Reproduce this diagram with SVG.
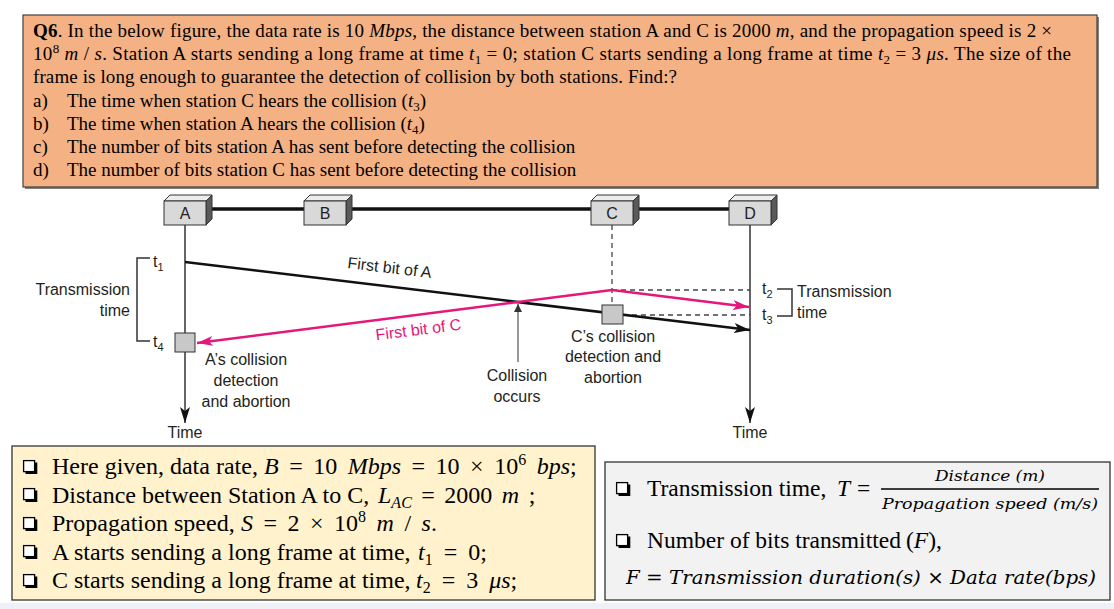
<svg xmlns="http://www.w3.org/2000/svg" width="1114" height="609" viewBox="0 0 1114 609">
<style>
.q{font-family:"Liberation Serif",serif;font-size:19px;fill:#000}
.g{font-family:"Liberation Serif",serif;font-size:24px;fill:#000}
.h{font-family:"Liberation Serif",serif;font-size:23.5px;fill:#000}
.m{font-style:italic}
.lbl{font-family:"Liberation Sans",Arial,sans-serif;font-size:16px;fill:#231F20}
.st{font-family:"Liberation Sans",Arial,sans-serif;font-size:16px;fill:#231F20;text-anchor:middle}
.fr{font-family:"DejaVu Serif",serif;font-style:italic;fill:#000}
.frontf{fill:#D9D9D9;stroke:#333;stroke-width:1}
.topf{fill:#EDEDED;stroke:#333;stroke-width:1}
.sidef{fill:#5A5A5A;stroke:#333;stroke-width:1}
.blk{stroke:#111;stroke-width:2.5;fill:none}
.pnk{stroke:#E5177B;stroke-width:2.5;fill:none}
.tl{stroke:#333;stroke-width:1.5;fill:none}
.dash{stroke:#444;stroke-width:1.3;stroke-dasharray:5,4;fill:none}
.sq{fill:#C8C8C8;stroke:#333;stroke-width:1}
</style>
<defs>
<marker id="ah" markerUnits="userSpaceOnUse" markerWidth="16" markerHeight="10" refX="16" refY="5" orient="auto">
<path d="M0,0 L16,5 L0,10 L4,5 Z" fill="#111"/>
</marker>
<marker id="ahp" markerUnits="userSpaceOnUse" markerWidth="16" markerHeight="10" refX="16" refY="5" orient="auto">
<path d="M0,0 L16,5 L0,10 L4,5 Z" fill="#E5177B"/>
</marker>
<marker id="ahs" markerUnits="userSpaceOnUse" markerWidth="8" markerHeight="8" refX="8" refY="4" orient="auto">
<path d="M0,0 L8,4 L0,8 Z" fill="#333"/>
</marker>
<g id="cb">
<path d="M2.5,12.6 H13 V2.5" stroke="#000" stroke-width="2.6" fill="none"/>
<rect x="0.6" y="0.6" width="11" height="11" fill="#fff" stroke="#000" stroke-width="1.3"/>
</g>
</defs>

<rect x="0" y="0" width="1114" height="609" fill="#fff"/>
<rect x="0" y="603" width="1114" height="6" fill="#EEF1F5"/>

<g id="question">
<rect x="25" y="17" width="1074" height="172" fill="#7F7F7F"/>
<rect x="23" y="15" width="1074" height="172" fill="#F4B183" stroke="#404040" stroke-width="1.2"/>
<text class="q" x="33" y="37" textLength="1019" lengthAdjust="spacing"><tspan font-weight="bold">Q6</tspan>. In the below figure, the data rate is 10 <tspan class="m">Mbps</tspan>, the distance between station A and C is 2000 <tspan class="m">m</tspan>, and the propagation speed is 2 ×</text>
<text class="q" x="33" y="60" textLength="1038" lengthAdjust="spacing">10<tspan dy="-7" font-size="13">8</tspan><tspan dy="7"> </tspan><tspan class="m">m</tspan> / <tspan class="m">s</tspan>. Station A starts sending a long frame at time <tspan class="m">t</tspan><tspan dy="4" font-size="13">1</tspan><tspan dy="-4"> = 0; station C starts sending a long frame at time </tspan><tspan class="m">t</tspan><tspan dy="4" font-size="13">2</tspan><tspan dy="-4"> = 3 </tspan><tspan class="m">μs</tspan>. The size of the</text>
<text class="q" x="33" y="83" textLength="644" lengthAdjust="spacing">frame is long enough to guarantee the detection of collision by both stations. Find:?</text>
<text class="q" x="33" y="107">a)</text>
<text class="q" x="67" y="107">The time when station C hears the collision (<tspan class="m">t</tspan><tspan dy="4" font-size="13">3</tspan><tspan dy="-4">)</tspan></text>
<text class="q" x="33" y="130">b)</text>
<text class="q" x="67" y="130">The time when station A hears the collision (<tspan class="m">t</tspan><tspan dy="4" font-size="13">4</tspan><tspan dy="-4">)</tspan></text>
<text class="q" x="33" y="153">c)</text>
<text class="q" x="67" y="153">The number of bits station A has sent before detecting the collision</text>
<text class="q" x="33" y="176">d)</text>
<text class="q" x="67" y="176">The number of bits station C has sent before detecting the collision</text>
</g>

<g id="bus">
<line x1="205" y1="209" x2="735" y2="209" stroke="#111" stroke-width="3.5"/>
</g>

<g id="connectors">
<line class="tl" x1="185" y1="225" x2="185" y2="423" marker-end="url(#ah)"/>
<line class="tl" x1="750" y1="225" x2="750" y2="423" marker-end="url(#ah)"/>
<line class="dash" x1="612" y1="225" x2="612" y2="305"/>
<line class="dash" x1="612" y1="290" x2="750" y2="290"/>
<line class="dash" x1="623" y1="315" x2="750" y2="315"/>
<line class="blk" x1="185" y1="262" x2="750" y2="330" marker-end="url(#ah)"/>
<line class="pnk" x1="612" y1="290" x2="197" y2="343" marker-end="url(#ahp)"/>
<line class="pnk" x1="612" y1="290" x2="749" y2="307" marker-end="url(#ahp)"/>
<line x1="518" y1="362" x2="518" y2="304" stroke="#333" stroke-width="1" marker-end="url(#ahs)"/>
<polyline class="tl" stroke-width="1.2" points="150,258 137,258 137,341 150,341"/>
<polyline class="tl" stroke-width="1.2" points="777,289 792,289 792,316 777,316"/>
</g>

<g id="stationA">
<polygon class="topf" points="164,201 170,195 212,195 206,201"/>
<polygon class="sidef" points="206,201 212,195 212,219 206,225"/>
<rect class="frontf" x="164" y="201" width="42" height="24"/>
<text class="st" x="185" y="219">A</text>
</g>
<g id="stationB">
<polygon class="topf" points="304,201 310,195 352,195 346,201"/>
<polygon class="sidef" points="346,201 352,195 352,219 346,225"/>
<rect class="frontf" x="304" y="201" width="42" height="24"/>
<text class="st" x="325" y="219">B</text>
</g>
<g id="stationC">
<polygon class="topf" points="591,201 597,195 639,195 633,201"/>
<polygon class="sidef" points="633,201 639,195 639,219 633,225"/>
<rect class="frontf" x="591" y="201" width="42" height="24"/>
<text class="st" x="612" y="219">C</text>
</g>
<g id="stationD">
<polygon class="topf" points="729,201 735,195 777,195 771,201"/>
<polygon class="sidef" points="771,201 777,195 777,219 771,225"/>
<rect class="frontf" x="729" y="201" width="42" height="24"/>
<text class="st" x="750" y="219">D</text>
</g>

<g id="detectA">
<rect class="sq" x="175" y="333" width="20" height="19"/>
<text class="st" x="246" y="365">A’s collision</text>
<text class="st" x="246" y="386">detection</text>
<text class="st" x="246" y="407">and abortion</text>
</g>
<g id="detectC">
<rect class="sq" x="602" y="305" width="21" height="19"/>
<text class="st" x="613" y="342">C’s collision</text>
<text class="st" x="613" y="362">detection and</text>
<text class="st" x="613" y="383">abortion</text>
</g>
<g id="collision">
<text class="st" x="517" y="381">Collision</text>
<text class="st" x="517" y="402">occurs</text>
</g>
<g id="labels">
<text class="lbl" x="389" y="273" text-anchor="middle" transform="rotate(6.9 389 273)">First bit of A</text>
<text class="lbl" x="419" y="335" text-anchor="middle" style="fill:#E5177B" transform="rotate(-7.1 419 335)">First bit of C</text>
<text class="lbl" x="130" y="295" text-anchor="end">Transmission</text>
<text class="lbl" x="130" y="316" text-anchor="end">time</text>
<text class="lbl" x="153" y="267">t<tspan dy="4" font-size="11">1</tspan></text>
<text class="lbl" x="153" y="347">t<tspan dy="4" font-size="11">4</tspan></text>
<text class="lbl" x="762" y="294">t<tspan dy="4" font-size="11">2</tspan></text>
<text class="lbl" x="762" y="320">t<tspan dy="4" font-size="11">3</tspan></text>
<text class="lbl" x="797" y="297">Transmission</text>
<text class="lbl" x="797" y="318">time</text>
<text class="st" x="185" y="438">Time</text>
<text class="st" x="750" y="438">Time</text>
</g>

<g id="given">
<rect x="12" y="446" width="583" height="154" fill="#FFF2CC" stroke="#333" stroke-width="1.3"/>
<use href="#cb" x="23" y="460"/>
<use href="#cb" x="23" y="488"/>
<use href="#cb" x="23" y="517"/>
<use href="#cb" x="23" y="545"/>
<use href="#cb" x="23" y="574"/>
<text class="g" x="52" y="474">Here given, data rate,</text>
<text class="g" x="264" y="474" word-spacing="4.5"><tspan class="m">B</tspan> = 10 <tspan class="m">Mbps</tspan> = 10 × 10<tspan dy="-9" font-size="16">6</tspan><tspan dy="9"> </tspan><tspan class="m">bps</tspan>;</text>
<text class="g" x="52" y="502.5">Distance between Station A to C,</text>
<text class="g" x="378" y="502.5" word-spacing="3.5"><tspan class="m">L</tspan><tspan dy="5" font-size="16" class="m">AC</tspan><tspan dy="-5"> = 2000 </tspan><tspan class="m">m</tspan> ;</text>
<text class="g" x="52" y="531">Propagation speed,</text>
<text class="g" x="241" y="531" word-spacing="4.5"><tspan class="m">S</tspan> = 2 × 10<tspan dy="-9" font-size="16">8</tspan><tspan dy="9"> </tspan><tspan class="m">m</tspan> / <tspan class="m">s</tspan>.</text>
<text class="g" x="52" y="559.5">A starts sending a long frame at time,</text>
<text class="g" x="418" y="559.5" word-spacing="5"><tspan class="m">t</tspan><tspan dy="5" font-size="16">1</tspan><tspan dy="-5"> = 0;</tspan></text>
<text class="g" x="52" y="588">C starts sending a long frame at time,</text>
<text class="g" x="416" y="588" word-spacing="5"><tspan class="m">t</tspan><tspan dy="5" font-size="16">2</tspan><tspan dy="-5"> = 3 </tspan><tspan class="m">μs</tspan>;</text>
</g>

<g id="formulas">
<rect x="605" y="462" width="505" height="138" fill="#F2F2F2" stroke="#333" stroke-width="1.3"/>
<use href="#cb" x="616" y="482"/>
<use href="#cb" x="616" y="534"/>
<text class="h" x="647" y="496">Transmission time,</text>
<text class="h m" x="837" y="496">T</text>
<text class="h" x="857" y="496">=</text>
<text class="fr" x="990" y="481" font-size="15" text-anchor="middle" textLength="110" lengthAdjust="spacingAndGlyphs">Distance (m)</text>
<line x1="881" y1="489" x2="1099" y2="489" stroke="#000" stroke-width="1.3"/>
<text class="fr" x="990" y="509" font-size="15" text-anchor="middle" textLength="216" lengthAdjust="spacingAndGlyphs">Propagation speed (m/s)</text>
<text class="h" x="647" y="548">Number of bits transmitted</text>
<text class="h" x="906" y="548" word-spacing="2">(<tspan class="m">F</tspan>),</text>
<text class="fr" x="626" y="584" font-size="19" textLength="470" lengthAdjust="spacingAndGlyphs">F = Transmission duration(s) × Data rate(bps)</text>
</g>
</svg>
